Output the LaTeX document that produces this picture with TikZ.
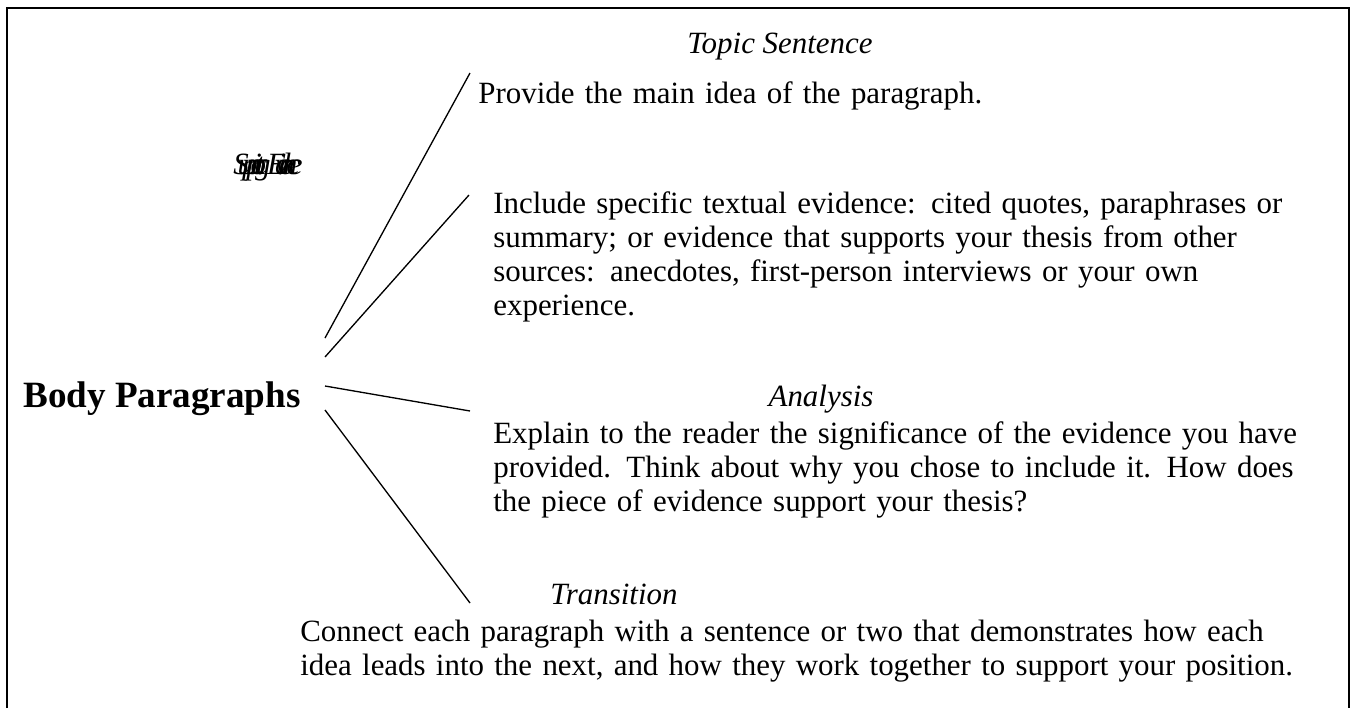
\documentclass[tikz,border=0pt]{standalone}
\usepackage{fontspec}
\setmainfont{Liberation Serif}
\tikzstyle{edge}=[draw=black, line width=0.75pt]
\tikzstyle{txt}=[anchor=base west, inner sep=0pt, text width=520pt, align=left, font=\fontsize{17.5}{19.3}\selectfont]
\tikzstyle{head}=[anchor=base, inner sep=0pt, font=\fontsize{17.5}{20}\selectfont\itshape]
\newcommand{\fullline}[1]{\makebox[573pt][s]{#1}}
\begin{document}
\begin{tikzpicture}[x=0.566pt,y=-0.566pt]
\useasboundingbox (0,0) rectangle (1352,708);
\draw[line width=1.1pt] (7,708)--(7,8)--(1349,8)--(1349,708);
% headings
\node[head, anchor=base west] (topic) at (687,53) {Topic Sentence};
\node[head] (analysis) at (821,406) {Analysis};
\node[head] (transition) at (614,604) {Transition};
\node[anchor=base west, inner sep=0pt, font=\fontsize{17.5}{20}\selectfont\itshape\addfontfeature{LetterSpace=-36}] (support) at (233,174) {Supporting Evidence};
% main node
\node[anchor=base west, inner sep=0pt, font=\fontsize{21}{24}\selectfont\bfseries] (body) at (23,407) {Body Paragraphs};
% texts
\node[txt] (topictxt) at (478,103) {Provide the main idea of the paragraph.};
\node[txt] (supporttxt) at (493,213) {Include specific textual evidence: cited quotes, paraphrases or\\
summary; or evidence that supports your thesis from other\\
sources: anecdotes, first-person interviews or your own\\
experience.};
\node[txt] (analysistxt) at (493,443) {Explain to the reader the significance of the evidence you have\\
provided. Think about why you chose to include it. How does\\
the piece of evidence support your thesis?};
\node[txt, text width=580pt] (transtxt) at (300,641) {\fullline{Connect each paragraph with a sentence or two that demonstrates how each}\\
\fullline{idea leads into the next, and how they work together to support your position.}};
% connectors
\coordinate (b1) at (325,338);
\coordinate (b2) at (325,357);
\coordinate (b3) at (325,386);
\coordinate (b4) at (325,410);
\coordinate (t1) at (470,73);
\coordinate (t2) at (469,195);
\coordinate (t3) at (470,411);
\coordinate (t4) at (470,603);
\draw[edge] (b1)--(t1);
\draw[edge] (b2)--(t2);
\draw[edge] (b3)--(t3);
\draw[edge] (b4)--(t4);
\end{tikzpicture}
\end{document}
